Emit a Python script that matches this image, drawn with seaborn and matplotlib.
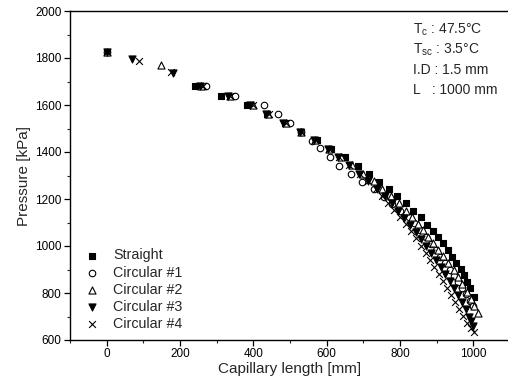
import matplotlib
matplotlib.use("Agg")
import matplotlib.pyplot as plt
from matplotlib.ticker import MultipleLocator
import seaborn as sns
import pandas as pd

# Pressure along the capillary tube for straight and circular (coiled) geometries
straight_x = [0, 241, 311, 383, 438, 485, 530, 574, 613, 651, 685, 715, 742, 769, 792,
              815, 836, 856, 874, 889, 903, 917, 930, 942, 954, 965, 975, 983, 992, 1001]
straight_p = [1824, 1681, 1638, 1600, 1560, 1525, 1484, 1451, 1413, 1377, 1342, 1308, 1274,
              1243, 1213, 1182, 1150, 1122, 1091, 1064, 1037, 1011, 983, 955, 926, 901, 877,
              848, 820, 784]

circ1_x = [0, 272, 351, 429, 468, 501, 530, 560, 583, 608, 633, 665, 697, 728, 756, 778,
           799, 824, 839, 855, 871, 884, 897, 910, 923, 935, 947, 958, 969, 980, 990, 1000]
circ1_p = [1824, 1681, 1638, 1600, 1563, 1525, 1487, 1448, 1416, 1380, 1342, 1306, 1274,
           1241, 1210, 1179, 1150, 1123, 1098, 1068, 1038, 1010, 983, 955, 928, 900, 873,
           846, 820, 794, 768, 745]

circ2_x = [0, 147, 258, 335, 400, 440, 490, 530, 568, 605, 640, 668, 700, 728, 752, 776,
           797, 815, 832, 848, 862, 876, 890, 904, 917, 931, 946, 958, 970, 982, 993, 1003, 1012]
circ2_p = [1824, 1770, 1681, 1638, 1600, 1563, 1525, 1487, 1450, 1414, 1378, 1343, 1308,
           1275, 1243, 1212, 1181, 1150, 1122, 1094, 1066, 1040, 1012, 983, 957, 928, 898,
           868, 840, 805, 775, 745, 713]

circ3_x = [0, 70, 180, 255, 330, 390, 435, 482, 528, 565, 603, 632, 660, 688, 713, 738,
           758, 778, 795, 812, 828, 843, 857, 871, 885, 898, 911, 923, 935, 947, 958, 969,
           979, 989, 994, 999]
circ3_p = [1824, 1794, 1735, 1681, 1638, 1600, 1563, 1525, 1487, 1450, 1414, 1378, 1343,
           1308, 1275, 1243, 1212, 1181, 1150, 1120, 1090, 1060, 1030, 1000, 970, 940, 910,
           880, 850, 820, 790, 760, 730, 700, 680, 660]

circ4_x = [0, 88, 175, 262, 335, 398, 442, 488, 530, 568, 605, 633, 662, 690, 713, 735,
           752, 768, 784, 800, 815, 829, 843, 857, 870, 882, 894, 906, 918, 929, 940, 951,
           962, 973, 984, 994, 1003]
circ4_p = [1824, 1787, 1740, 1681, 1638, 1600, 1563, 1525, 1487, 1450, 1414, 1378, 1343,
           1308, 1275, 1243, 1212, 1182, 1152, 1122, 1092, 1062, 1032, 1002, 972, 942, 912,
           882, 852, 822, 792, 762, 732, 702, 672, 650, 635]

series_names = ["Straight", "Circular #1", "Circular #2", "Circular #3", "Circular #4"]
series_x = [straight_x, circ1_x, circ2_x, circ3_x, circ4_x]
series_p = [straight_p, circ1_p, circ2_p, circ3_p, circ4_p]

x_ticks = [0, 200, 400, 600, 800, 1000]
y_ticks = [600, 800, 1000, 1200, 1400, 1600, 1800, 2000]

sns.set_theme(style="ticks")
plt.rcParams["font.family"] = ["Liberation Sans", "DejaVu Sans"]
plt.rcParams["mathtext.fontset"] = "custom"
plt.rcParams["mathtext.rm"] = "Liberation Sans"
plt.rcParams["mathtext.it"] = "Liberation Sans"

fig = plt.figure(figsize=(5.08, 3.92), dpi=100)
ax = fig.add_axes([70 / 508, 52 / 392, 440 / 508, 329 / 392])

styles = {
    "Straight": dict(marker="s", facecolor="black", edgecolor="black", s=22),
    "Circular #1": dict(marker="o", facecolor="white", edgecolor="black", s=22),
    "Circular #2": dict(marker="^", facecolor="white", edgecolor="black", s=26),
    "Circular #3": dict(marker="v", facecolor="black", edgecolor="black", s=26),
    "Circular #4": dict(marker="x", color="black", s=24),
}

for name, xs, ps in zip(series_names, series_x, series_p):
    df = pd.DataFrame({"length": xs, "pressure": ps})
    st = styles[name]
    if st["marker"] == "x":
        sns.scatterplot(data=df, x="length", y="pressure", ax=ax, marker="x",
                        color="black", s=st["s"], linewidth=0.8, label=name)
    else:
        sns.scatterplot(data=df, x="length", y="pressure", ax=ax, marker=st["marker"],
                        facecolor=st["facecolor"], edgecolor=st["edgecolor"],
                        s=st["s"], linewidth=0.8, label=name)

ax.set_xlim(-100, 1100)
ax.set_ylim(600, 2000)
ax.set_xticks(x_ticks)
ax.set_yticks(y_ticks)
ax.xaxis.set_minor_locator(MultipleLocator(100))
ax.yaxis.set_minor_locator(MultipleLocator(100))
ax.tick_params(which="major", direction="out", length=4, width=0.9, labelsize=8.5,
               colors="black", pad=2)
ax.tick_params(which="minor", direction="out", length=2.2, width=0.8)
for sp in ax.spines.values():
    sp.set_linewidth(1.0)
    sp.set_color("black")

ax.set_xlabel("Capillary length [mm]", fontsize=11, labelpad=1)
ax.set_ylabel("Pressure [kPa]", fontsize=11, labelpad=3)

leg = ax.legend(loc="lower left", frameon=False, fontsize=10.3, handlelength=1.0,
                handletextpad=1.0, labelspacing=0.22, borderaxespad=0.0,
                markerscale=1.0, bbox_to_anchor=(0.02, 0.01))

info = [r"T$_\mathrm{c}$ : 47.5°C", r"T$_\mathrm{sc}$ : 3.5°C", "I.D : 1.5 mm", "L   : 1000 mm"]
for i, line in enumerate(info):
    fig.text(413 / 508, 1 - (30 + 20 * i) / 392, line, fontsize=10, va="center", ha="left")

fig.savefig("out.png", dpi=100)
